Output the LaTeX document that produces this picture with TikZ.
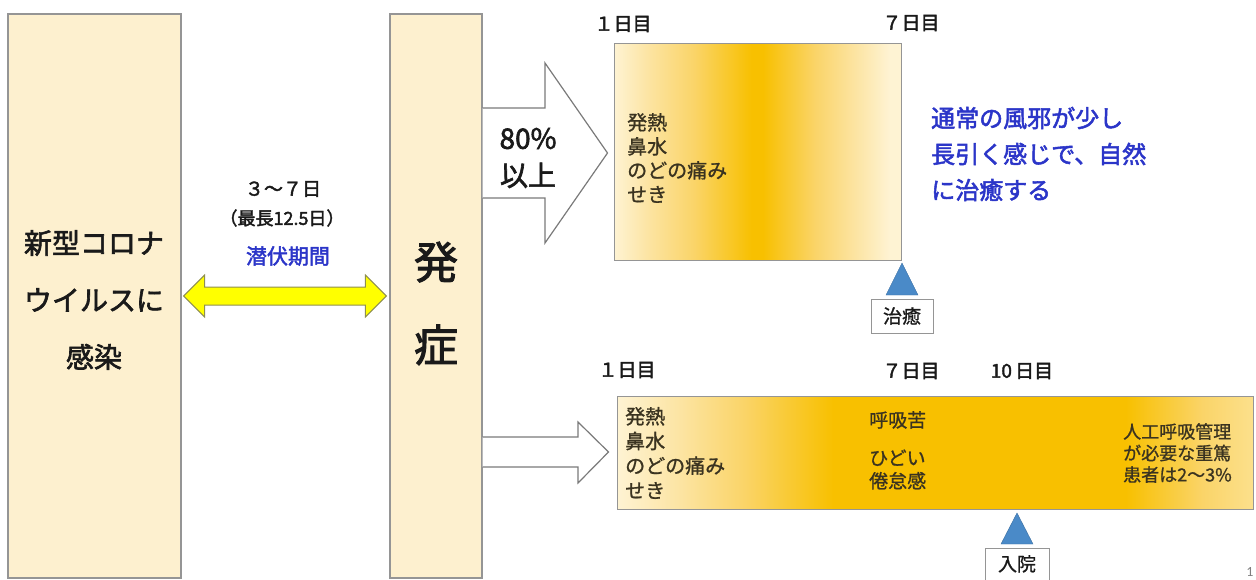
\documentclass[tikz,border=0pt]{standalone}
\usepackage{fontspec}
\newfontfamily\jp{Noto Sans CJK JP}[FakeBold=1]
\newfontfamily\jpb{Noto Sans CJK JP}[FakeBold=2.2]
\newfontfamily\pgnum{Carlito}
\usetikzlibrary{calc}
\definecolor{beige}{HTML}{FDF0CF}
\definecolor{bordergray}{HTML}{959595}
\definecolor{arrowgray}{HTML}{7A7A7A}
\definecolor{yelfill}{HTML}{FFFF00}
\definecolor{yelline}{HTML}{8E8E50}
\definecolor{bluetext}{HTML}{2B35C8}
\definecolor{tri}{HTML}{4A8AC8}
\definecolor{darktext}{HTML}{1A1A1A}
\definecolor{symtext}{HTML}{3A3320}
\definecolor{gl}{HTML}{FEF3D3}
\definecolor{gm}{HTML}{FCE4A2}
\definecolor{gm2}{HTML}{FAD468}
\definecolor{gd}{HTML}{F8C000}
\definecolor{gr}{HTML}{FCE08C}
\pgfdeclarehorizontalshading{topgrad}{100bp}{color(0bp)=(gl); color(25bp)=(gl); color(31bp)=(gm); color(39bp)=(gm2); color(49bp)=(gd); color(51bp)=(gd); color(60bp)=(gm2); color(67bp)=(gm); color(73bp)=(gl); color(100bp)=(gl)}
\pgfdeclarehorizontalshading{botgrad}{100bp}{color(0bp)=(gl); color(25bp)=(gl); color(30bp)=(gm); color(35bp)=(gm2); color(42bp)=(gd); color(65bp)=(gd); color(71bp)=(gm2); color(75bp)=(gr); color(100bp)=(gr)}
\begin{document}
\begin{tikzpicture}[x=1pt,y=-1pt,
  tallbox/.style={draw=bordergray, line width=1.2pt, fill=beige, inner sep=0pt},
  bandbox/.style={draw=bordergray, line width=1pt, inner sep=0pt},
  smallbox/.style={draw=bordergray, line width=1pt, fill=white, inner sep=0pt, font=\jp\fontsize{19}{22}\selectfont, text=darktext},
  daylabel/.style={font=\jpb\fontsize{19}{22}\selectfont, text=darktext, inner sep=0pt},
  symlabel/.style={align=left, anchor=west, inner sep=0pt, text=symtext},
  bigarrow/.style={draw=arrowgray, line width=1.2pt, fill=white, line join=miter},
  marker/.style={fill=tri, draw=tri!80!black, line width=0.4pt}
]
\useasboundingbox (0,0) rectangle (1256,579);
% tall boxes
\node[tallbox, minimum width=173pt, minimum height=564pt] (infect) at (94.5,296) {};
\node[align=center, inner sep=0pt, text=darktext, font=\jpb\fontsize{28}{57}\selectfont] (infecttxt) at (94,300) {新型コロナ\\ウイルスに\\感染};
\node[tallbox, minimum width=92pt, minimum height=564pt] (onset) at (436,296) {};
\node[align=center, inner sep=0pt, text=darktext, font=\jpb\fontsize{44}{83}\selectfont] (onsettxt) at (436,303.5) {発\\症};
% double arrow
\coordinate (L) at ($(infect.east)+(2,0)$);
\coordinate (R) at ($(onset.west)+(-3,0)$);
\draw[fill=yelfill, draw=yelline, line width=1pt, line join=miter]
  (L) -- ($(L)+(21,-21)$) -- ($(L)+(21,-9)$) -- ($(R)+(-21,-9)$) -- ($(R)+(-21,-21)$) -- (R)
  -- ($(R)+(-21,21)$) -- ($(R)+(-21,9)$) -- ($(L)+(21,9)$) -- ($(L)+(21,21)$) -- cycle;
\node[inner sep=0pt, text=darktext, font=\jpb\fontsize{19}{22}\selectfont] (lat1) at (283,189) {３～７日};
\node[inner sep=0pt, text=darktext, font=\jpb\fontsize{18}{22}\selectfont] (lat2) at (282,218) {（最長12.5日）};
\node[inner sep=0pt, text=bluetext, font=\jpb\fontsize{21}{24}\selectfont] (lat3) at (288,256) {潜伏期間};
% top band
\node[bandbox, shading=topgrad, minimum width=287pt, minimum height=217pt] (topbox) at (757.5,151.5) {};
\node[daylabel] (tday1) at (623,24) {１日目};
\node[daylabel] (tday7) at (911,23) {７日目};
\node[symlabel, font=\jp\fontsize{20}{24}\selectfont] (tsym) at (627,158) {発熱\\鼻水\\のどの痛み\\せき};
\node[align=left, anchor=west, inner sep=0pt, text=bluetext, font=\jpb\fontsize{24}{36}\selectfont] (cold) at (931,154) {通常の風邪が少し\\長引く感じで、自然\\に治癒する};
\coordinate (t1) at (902,263);
\draw[marker] (t1) -- (918,295) -- (886,295) -- cycle;
\node[smallbox, minimum width=62pt, minimum height=34pt] (heal) at (902,316) {治癒};
% top big arrow
\draw[bigarrow] ($(onset.east |- 0,108)$) -- (545,108) -- (545,63) -- ($(topbox.west)+(-6,1.5)$) -- (545,243) -- (545,198) -- ($(onset.east |- 0,198)$);
\node[align=center, inner sep=0pt, text=darktext, font=\jpb\fontsize{28}{37}\selectfont] (pct) at (528,158) {80\%\\以上};
% bottom band
\node[bandbox, shading=botgrad, minimum width=636pt, minimum height=113pt] (botbox) at (935,452.5) {};
\node[daylabel] (bday1) at (627,370) {１日目};
\node[daylabel] (bday7) at (911,371) {７日目};
\node[daylabel] (bday10) at (1022,371) {10\,日目};
\node[symlabel, font=\jp\fontsize{20}{24.7}\selectfont] (bsym) at (625,453) {発熱\\鼻水\\のどの痛み\\せき};
\node[symlabel, font=\jp\fontsize{19}{23}\selectfont] (breath) at (869,420) {呼吸苦};
\node[symlabel, font=\jp\fontsize{19}{23}\selectfont] (fatigue) at (869,469.5) {ひどい\\倦怠感};
\node[symlabel, font=\jp\fontsize{18}{21.5}\selectfont] (severe) at (1123,453) {人工呼吸管理\\が必要な重篤\\患者は2～3\%};
\draw[bigarrow] ($(onset.east |- 0,437)$) -- (578,437) -- (578,422) -- ($(botbox.west)+(-8,-0.5)$) -- (578,483) -- (578,467) -- ($(onset.east |- 0,467)$);
\coordinate (t2) at (1017,513);
\draw[marker] (t2) -- (1033,544) -- (1001,544) -- cycle;
\node[smallbox, minimum width=64pt, minimum height=46pt] (hosp) at (1017,571) {\raisebox{0pt}[0pt][0pt]{入院}};
\node[inner sep=0pt, text=gray, font=\pgnum\fontsize{14}{16}\selectfont] (pg) at (1250,572) {1};
\end{tikzpicture}
\end{document}
